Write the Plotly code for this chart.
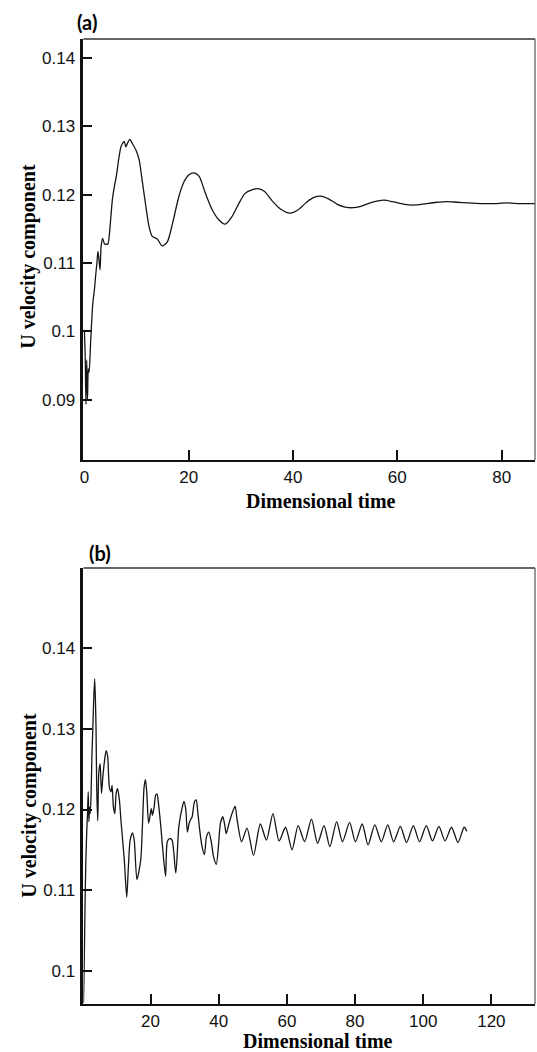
import plotly.graph_objects as go

# ---- Panel (a): U velocity history at the probe ----
time_a = [0.0, 0.15, 0.3, 0.45, 0.6, 0.75, 0.9, 1.2, 1.6, 1.95, 2.2, 2.4, 2.6, 2.8, 3.0,
          3.2, 3.5, 3.85, 4.5, 4.8, 5.1, 5.4, 5.75, 6.1, 6.6, 7.0, 7.3, 7.65, 7.95, 8.3,
          8.7, 9.2, 9.9, 10.5, 11.15, 11.8, 12.4, 13.0, 14.0, 14.9, 15.9, 16.9, 18.1, 19.1,
          20.0, 21.0, 22.0, 23.2, 24.5, 25.8, 27.0, 28.3, 29.6, 30.8, 32.1, 33.2, 34.5,
          36.0, 37.6, 39.4, 41.0, 42.6, 44.0, 45.3, 46.8, 48.5, 50.0, 51.5, 53.0, 54.8,
          56.3, 57.5, 59.0, 60.8, 62.3, 63.6, 65.5, 67.5, 69.5, 71.5, 73.5, 76.0, 78.5,
          81.0, 83.5, 86.4]
u_a = [0.1000, 0.0965, 0.0893, 0.0958, 0.0900, 0.0945, 0.0940, 0.0985, 0.1040, 0.1063,
       0.1085, 0.1100, 0.1117, 0.1105, 0.1090, 0.1124, 0.1136, 0.1128, 0.1128, 0.1143,
       0.1170, 0.1195, 0.1212, 0.1226, 0.1253, 0.1270, 0.1275, 0.1278, 0.1270, 0.1276,
       0.1281, 0.1275, 0.1265, 0.1251, 0.1217, 0.1182, 0.1153, 0.1139, 0.1135, 0.1125,
       0.1131, 0.1158, 0.1197, 0.1219, 0.1229, 0.1232, 0.1227, 0.1202, 0.1178, 0.1163,
       0.1157, 0.1168, 0.1187, 0.1202, 0.1207, 0.1209, 0.1205, 0.1191, 0.1179, 0.1173,
       0.1178, 0.1189, 0.1196, 0.1198, 0.1194, 0.1186, 0.1182, 0.1181, 0.1183, 0.1188,
       0.1191, 0.1192, 0.1190, 0.1187, 0.1185, 0.1185, 0.1187, 0.1189, 0.1190, 0.1189,
       0.1188, 0.1187, 0.1187, 0.1188, 0.1187, 0.1187]

# ---- Panel (b): U velocity history, second case ----
time_b = [0.3, 0.45, 0.6, 0.8, 1.0, 1.25, 1.5, 1.7, 1.9, 2.1, 2.3, 2.55, 2.8, 3.05, 3.3,
          3.6, 3.85, 4.0, 4.2, 4.5, 4.8, 5.2, 5.6, 6.0, 6.5, 6.95, 7.4, 7.9, 8.4, 8.7,
          9.1, 9.5, 9.9, 10.3, 10.85, 11.3, 11.8, 12.3, 13.0, 13.5, 14.0, 14.7, 15.2,
          16.0, 17.1, 17.6, 18.1, 18.5, 18.9, 19.4, 19.8, 20.2, 20.55, 21.05, 21.5, 21.9,
          22.3, 23.0, 23.5, 24.4, 24.9, 25.6, 26.3, 27.4, 28.3, 29.3, 29.8, 30.3, 30.8,
          31.3, 31.7, 32.2, 32.9, 33.4, 33.8, 34.4, 35.1, 35.8, 36.4, 37.1, 37.8, 38.5,
          39.3, 39.9, 40.5, 41.2, 41.75, 42.2, 42.9, 43.9, 44.8, 45.4, 46.7, 48.3, 50.2,
          52.2, 54.0, 55.9, 57.7, 59.6, 61.5, 63.3, 65.2, 67.2, 69.0, 70.9, 72.6, 74.6,
          76.3, 78.4, 80.1, 82.1, 83.8, 85.8, 87.7, 89.6, 91.3, 93.3, 95.1, 97.1, 98.9,
          100.9, 102.7, 104.6, 106.4, 108.3, 110.2, 112.0, 112.8]
u_b = [0.0960, 0.0990, 0.1030, 0.1090, 0.1135, 0.1170, 0.1195, 0.1222, 0.1185, 0.1203,
       0.1195, 0.1220, 0.1268, 0.1300, 0.1335, 0.1362, 0.1330, 0.1300, 0.1225, 0.1186,
       0.1245, 0.1257, 0.1220, 0.1241, 0.1261, 0.1273, 0.1266, 0.1228, 0.1222, 0.1230,
       0.1203, 0.1195, 0.1220, 0.1226, 0.1212, 0.1187, 0.1162, 0.1137, 0.1091, 0.1130,
       0.1162, 0.1171, 0.1162, 0.1113, 0.1137, 0.1179, 0.1228, 0.1237, 0.1220, 0.1183,
       0.1191, 0.1201, 0.1193, 0.1203, 0.1218, 0.1219, 0.1208, 0.1179, 0.1154, 0.1117,
       0.1160, 0.1164, 0.1162, 0.1121, 0.1179, 0.1203, 0.1210, 0.1201, 0.1172, 0.1183,
       0.1187, 0.1191, 0.1210, 0.1212, 0.1199, 0.1175, 0.1154, 0.1144, 0.1166, 0.1172,
       0.1160, 0.1141, 0.1132, 0.1154, 0.1183, 0.1191, 0.1181, 0.1170, 0.1181, 0.1195,
       0.1204, 0.1187, 0.1160, 0.1177, 0.1143, 0.1182, 0.1162, 0.1195, 0.1161, 0.1178,
       0.1150, 0.1180, 0.1160, 0.1188, 0.1158, 0.1180, 0.1154, 0.1185, 0.1160, 0.1184,
       0.1160, 0.1182, 0.1156, 0.1181, 0.1160, 0.1181, 0.1160, 0.1179, 0.1159, 0.1180,
       0.1160, 0.1180, 0.1161, 0.1179, 0.1161, 0.1178, 0.1159, 0.1178, 0.1173]

# ---- Tick values and labels ----
xticks_a = [0, 20, 40, 60, 80]
xticklabels_a = ["0", "20", "40", "60", "80"]
yticks_a = [0.09, 0.10, 0.11, 0.12, 0.13, 0.14]
yticklabels_a = ["0.09", "0.1", "0.11", "0.12", "0.13", "0.14"]
xticks_b = [20, 40, 60, 80, 100, 120]
xticklabels_b = ["20", "40", "60", "80", "100", "120"]
yticks_b = [0.10, 0.11, 0.12, 0.13, 0.14, 0.15]
yticklabels_b = ["0.1", "0.11", "0.12", "0.13", "0.14", "0.15"]
minor_step_x = 5
minor_step_y = 0.002

xrange_a = [-0.19, 86.4]
yrange_a = [0.08116, 0.1428]
xrange_b = [0.29, 132.8]
yrange_b = [0.09587, 0.14996]

W, H = 537, 1052
def px(x):
    return x / W
def py(y):
    return 1 - y / H

INK = "#111111"
LINE = dict(color="#151515", width=1.3, shape="spline", smoothing=0.7)
TICKFONT = dict(family="Liberation Sans, Arial, sans-serif", size=17, color="#111")
TITLEFONT = dict(family="Liberation Serif, Times New Roman, serif", size=20, color="#000")
PANELFONT = dict(family="Lato, Open Sans, sans-serif", size=20, color="#000")

fig = go.Figure()
fig.add_trace(go.Scatter(x=time_a, y=u_a, mode="lines", line=LINE,
                         xaxis="x", yaxis="y", showlegend=False))
fig.add_trace(go.Scatter(x=time_b, y=u_b, mode="lines", line=LINE,
                         xaxis="x2", yaxis="y2", showlegend=False))

def major_axis(domain, rng, vals, texts, anchor, lw, tl, standoff):
    return dict(domain=domain, range=rng, anchor=anchor, autorange=False,
                tickmode="array", tickvals=vals, ticktext=texts,
                ticks="inside", ticklen=tl, tickwidth=2, tickcolor=INK,
                showline=True, linewidth=lw, linecolor=INK, layer="above traces",
                showgrid=False, zeroline=False, tickfont=TICKFONT,
                ticklabelstandoff=standoff)

def minor_axis(over, rng, anchor, step, tl, side):
    return dict(overlaying=over, range=rng, anchor=anchor, autorange=False, side=side,
                tickmode="linear", tick0=0, dtick=step,
                ticks="inside", ticklen=tl, tickwidth=1.5, tickcolor="#1a1a1a",
                showticklabels=False, showline=False, showgrid=False, zeroline=False)

xdom = [px(80), px(535)]
ydom_a = [py(460), py(39)]
ydom_b = [py(1004), py(568)]

fig.update_layout(
    width=W, height=H, autosize=False,
    margin=dict(l=0, r=0, t=0, b=0),
    paper_bgcolor="white", plot_bgcolor="white",
    xaxis=major_axis(xdom, xrange_a, xticks_a, xticklabels_a, "y", 2.2, 10, 0),
    yaxis=major_axis(ydom_a, yrange_a, yticks_a, yticklabels_a, "x", 2.8, 9, 2),
    xaxis2=major_axis(xdom, xrange_b, xticks_b, xticklabels_b, "y2", 2.2, 10, 0),
    yaxis2=major_axis(ydom_b, yrange_b, yticks_b, yticklabels_b, "x2", 2.8, 9, 2),
    # minor tick marks on overlay axes
    xaxis3=minor_axis("x", xrange_a, "y", minor_step_x, 6, "bottom"),
    yaxis3=minor_axis("y", yrange_a, "x", minor_step_y, 5, "left"),
    xaxis4=minor_axis("x2", xrange_b, "y2", minor_step_x, 6, "bottom"),
    yaxis4=minor_axis("y2", yrange_b, "x2", minor_step_y, 5, "left"),
)

# Thin top and right frame lines
for xr, yr in (("x domain", "y domain"), ("x2 domain", "y2 domain")):
    fig.add_shape(type="line", xref=xr, yref=yr, x0=0, x1=1, y0=1, y1=1,
                  line=dict(color="#333", width=1.4))
    fig.add_shape(type="line", xref=xr, yref=yr, x0=1, x1=1, y0=0, y1=1,
                  line=dict(color="#555", width=1.2))

def label(text, x, y, font, angle=0):
    fig.add_annotation(text=text, x=px(x), y=py(y), xref="paper", yref="paper",
                       showarrow=False, font=font, textangle=angle,
                       xanchor="center", yanchor="middle")

label("<b>(a)</b>", 84, 21.5, PANELFONT)
label("<b>(b)</b>", 97, 553, PANELFONT)
label("<b>Dimensional time</b>", 319, 501, TITLEFONT)
label("<b>Dimensional time</b>", 316, 1041, TITLEFONT)
label("<b>U velocity component</b>", 25, 256, TITLEFONT, -90)
label("<b>U velocity component</b>", 25, 805, TITLEFONT, -90)

fig.write_html("out.html")
